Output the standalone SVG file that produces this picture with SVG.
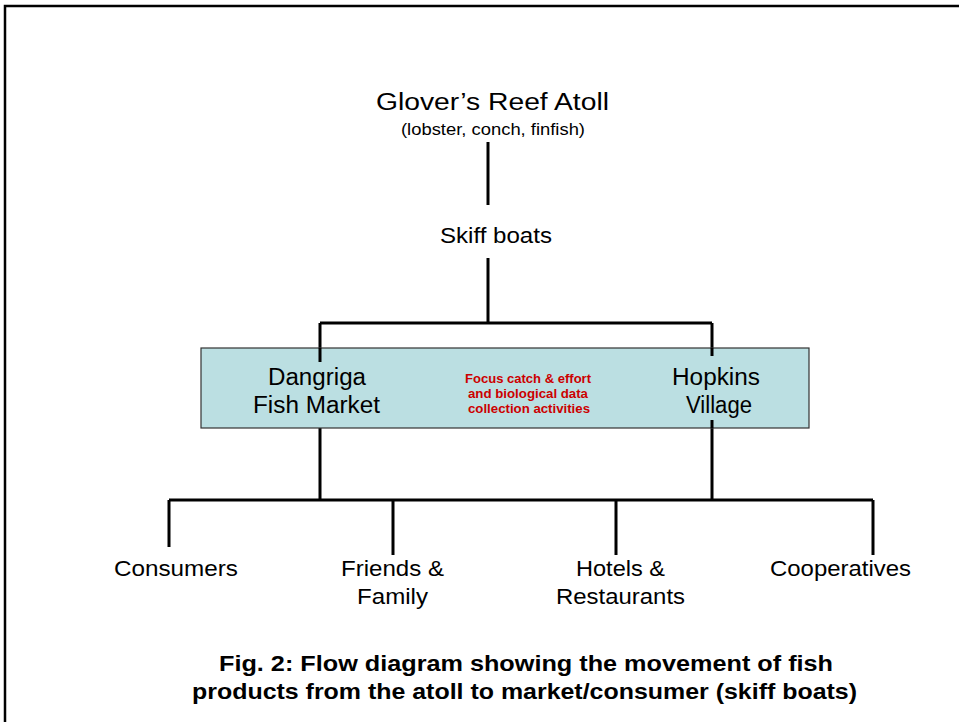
<svg xmlns="http://www.w3.org/2000/svg" width="959" height="722" viewBox="0 0 959 722">
<style>
text{font-family:"Liberation Sans",Arial,sans-serif;fill:#000;text-anchor:middle}
.big{font-size:23px}
.mid{font-size:22px}
.small{font-size:16px}
.red{font-size:12px;font-weight:bold;fill:#cc0000}
.cap{font-size:22px;font-weight:bold}
.ln{stroke:#000;stroke-width:3;fill:none}
</style>
<rect width="959" height="722" fill="#fff"/>
<path d="M5,722 V6 H959" stroke="#000" stroke-width="2.5" fill="none"/>
<g id="connectors">
<path class="ln" d="M488,142 V205"/>
<path class="ln" d="M488,258 V323 M320,323 H712 M320,323 V362 M712,323 V356"/>
<path class="ln" d="M320,418 V500 M712,420 V500 M169,500 H873 M169,500 V547 M393,500 V555 M616,500 V555 M873,500 V555"/>
</g>
<g id="glovers">
<text class="big" x="492.5" y="110" textLength="233" lengthAdjust="spacingAndGlyphs">Glover’s Reef Atoll</text>
<text class="small" x="493" y="135" textLength="184" lengthAdjust="spacingAndGlyphs">(lobster, conch, finfish)</text>
</g>
<g id="skiff"><text class="mid" x="496" y="243" textLength="112" lengthAdjust="spacingAndGlyphs">Skiff boats</text></g>
<g id="markets">
<rect x="201" y="348" width="608" height="80" fill="#bbdfe2" stroke="#333" stroke-width="1.2"/>
<path class="ln" d="M320,348 V362 M712,348 V356 M712,420 V428"/>
</g>
<g id="dangriga">
<text class="big" x="317" y="385" textLength="98" lengthAdjust="spacingAndGlyphs">Dangriga</text>
<text class="big" x="316.5" y="413" textLength="127" lengthAdjust="spacingAndGlyphs">Fish Market</text>
</g>
<g id="focus">
<text class="red" x="528" y="383" textLength="126" lengthAdjust="spacingAndGlyphs">Focus catch &amp; effort</text>
<text class="red" x="528" y="398" textLength="120" lengthAdjust="spacingAndGlyphs">and biological data</text>
<text class="red" x="529" y="413" textLength="122" lengthAdjust="spacingAndGlyphs">collection activities</text>
</g>
<g id="hopkins">
<text class="big" x="716" y="385" textLength="88" lengthAdjust="spacingAndGlyphs">Hopkins</text>
<text class="big" x="719" y="413" textLength="66" lengthAdjust="spacingAndGlyphs">Village</text>
</g>
<g id="consumers"><text class="mid" x="176" y="576" textLength="124" lengthAdjust="spacingAndGlyphs">Consumers</text></g>
<g id="friends">
<text class="mid" x="392.5" y="576" textLength="103" lengthAdjust="spacingAndGlyphs">Friends &amp;</text>
<text class="mid" x="392.5" y="604" textLength="71" lengthAdjust="spacingAndGlyphs">Family</text>
</g>
<g id="hotels">
<text class="mid" x="620.5" y="576" textLength="89" lengthAdjust="spacingAndGlyphs">Hotels &amp;</text>
<text class="mid" x="620.5" y="604" textLength="129" lengthAdjust="spacingAndGlyphs">Restaurants</text>
</g>
<g id="coop"><text class="mid" x="840.5" y="576" textLength="141" lengthAdjust="spacingAndGlyphs">Cooperatives</text></g>
<g id="caption">
<text class="cap" x="526" y="671" textLength="614" lengthAdjust="spacingAndGlyphs">Fig. 2: Flow diagram showing the movement of fish</text>
<text class="cap" x="524.5" y="699" textLength="665" lengthAdjust="spacingAndGlyphs">products from the atoll to market/consumer (skiff boats)</text>
</g>
</svg>
